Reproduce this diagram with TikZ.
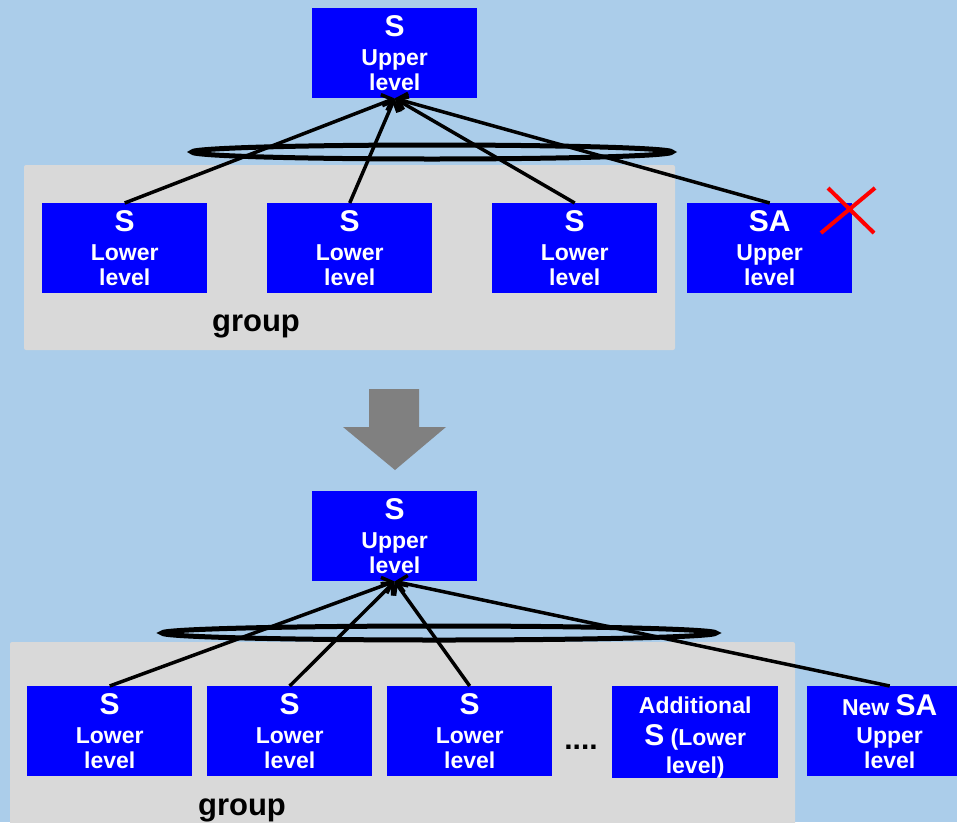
\documentclass[tikz,border=0pt]{standalone}
\usepackage{fontspec}
\setmainfont{Liberation Sans}
\usetikzlibrary{arrows.meta}
\definecolor{bgblue}{RGB}{171,205,234}
\definecolor{grpgray}{RGB}{217,217,217}
\definecolor{boxblue}{RGB}{0,0,255}
\definecolor{arrowgray}{RGB}{128,128,128}
\newcommand{\bigtxt}[1]{{\fontsize{30}{30}\selectfont #1}}

\begin{document}
\begin{tikzpicture}[x=1pt,y=-1pt,
  unit/.style={fill=boxblue, text=white, minimum width=165pt, minimum height=90pt,
    inner sep=0pt, align=center, anchor=north west,
    font=\bfseries\fontsize{23}{25}\selectfont},
  grp/.style={fill=grpgray, rounded corners=2pt},
  link/.style={line width=3.5pt, -{Straight Barb[length=9pt,width=17pt]}},
  ring/.style={line width=5pt},
  grplabel/.style={font=\bfseries\fontsize{31}{31}\selectfont, anchor=base, inner sep=0pt},
  cross/.style={red, line width=4pt},
]
\useasboundingbox (0,0) rectangle (957,822);
\fill[bgblue] (0,0) rectangle (957,822);

% ---------- before ----------
\fill[grp] (24,165) rectangle (675,350);
\node[grplabel] (g1) at (256,331) {group};

\node[unit] (u1) at (312,8) {\bigtxt{S}\\[4pt]Upper\\level};
\node[unit] (a1) at (42,203) {\bigtxt{S}\\[4pt]Lower\\level};
\node[unit] (a2) at (267,203) {\bigtxt{S}\\[4pt]Lower\\level};
\node[unit] (a3) at (492,203) {\bigtxt{S}\\[4pt]Lower\\level};
\node[unit] (sa1) at (687,203) {\bigtxt{SA}\\[4pt]Upper\\level};

\draw[ring] (432,152) ellipse [x radius=240pt, y radius=7pt];

\foreach \n in {a1,a2,a3,sa1}
  \draw[link] (\n.north) -- (u1.south);

\draw[cross] (821,233) -- (875,188) (828,188) -- (874,233);

% ---------- transition arrow ----------
\fill[arrowgray] (369,389) -- (419,389) -- (419,427) -- (446,427) -- (395,470)
  -- (343,427) -- (369,427) -- cycle;

% ---------- after ----------
\fill[grp] (10,642) rectangle (795,830);
\node[grplabel] (g2) at (242,815) {group};

\node[unit] (u2) at (312,491) {\bigtxt{S}\\[4pt]Upper\\level};
\node[unit] (b1) at (27,686) {\bigtxt{S}\\[4pt]Lower\\level};
\node[unit] (b2) at (207,686) {\bigtxt{S}\\[4pt]Lower\\level};
\node[unit] (b3) at (387,686) {\bigtxt{S}\\[4pt]Lower\\level};
\node[font=\bfseries\fontsize{30}{30}\selectfont, anchor=base, inner sep=0pt] (dots) at (581,749) {....};
\node[unit, minimum width=166pt] (b4) at (612,686) {\rule{0pt}{27pt}Additional\\[7pt]\bigtxt{S} (Lower\\[3pt]level)};
\node[unit] (sa2) at (807,686) {New \bigtxt{SA}\\[3pt]Upper\\level};

\draw[ring] (439,633) ellipse [x radius=277pt, y radius=7pt];

\foreach \n in {b1,b2,b3,sa2}
  \draw[link] (\n.north) -- (u2.south);

\end{tikzpicture}
\end{document}
